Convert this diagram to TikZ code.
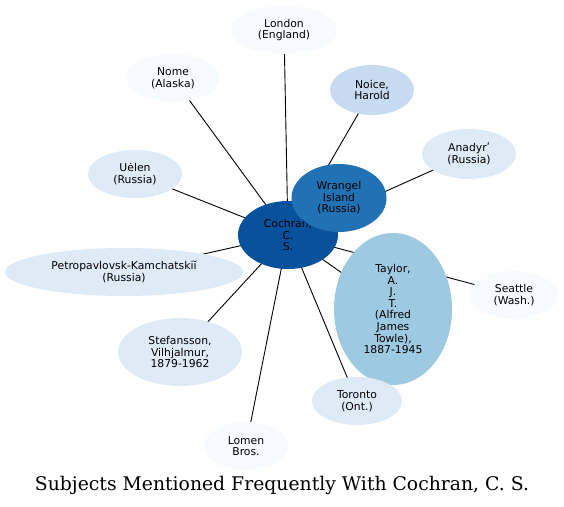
\documentclass[tikz,border=0pt]{standalone}
\usepackage{fontspec}
\setmainfont{DejaVu Sans}
\newfontfamily\titlefont{DejaVu Serif}
\usetikzlibrary{shapes.geometric,backgrounds}

\definecolor{blue0}{HTML}{F7FBFF}
\definecolor{blue1}{HTML}{DEEBF7}
\definecolor{blue2}{HTML}{C6DBEF}
\definecolor{blue3}{HTML}{9ECAE1}
\definecolor{blue5}{HTML}{2171B5}
\definecolor{blue6}{HTML}{08519C}

\tikzset{
  subject/.style={ellipse,inner sep=0pt,align=center,
    font=\fontsize{10.8}{11.6}\selectfont},
  link/.style={draw=black,line width=0.9pt}
}

\begin{document}
\begin{tikzpicture}[x=1pt,y=-1pt,line cap=round,line join=round]
\useasboundingbox (0,0) rectangle (564,506);

% Central subject and its nearest neighbour.
\node[subject,fill=blue6,minimum width=100,minimum height=68] (cochran) at (288,235) {Cochran,\\C.\\S.};
\node[subject,fill=blue5,minimum width=95,minimum height=68]  (wrangel) at (339,198) {Wrangel\\Island\\(Russia)};

% Other subjects.
\node[subject,fill=blue0,minimum width=106,minimum height=48] (london)  at (284,30)  {London\\(England)};
\node[subject,fill=blue0,minimum width=94,minimum height=48]  (nome)    at (173,78)  {Nome\\(Alaska)};
\node[subject,fill=blue2,minimum width=84,minimum height=50]  (noice)   at (372,90)  {Noice,\\Harold};
\node[subject,fill=blue1,minimum width=94,minimum height=50]  (anadyr)  at (469,154) {Anadyrʹ\\(Russia)};
\node[subject,fill=blue1,minimum width=94,minimum height=48]  (uelen)   at (135,174) {Uėlen\\(Russia)};
\node[subject,fill=blue1,minimum width=238,minimum height=48] (petro)   at (124,272) {Petropavlovsk-Kamchatskiĭ\\(Russia)};
\node[subject,fill=blue3,minimum width=118,minimum height=152] (taylor) at (393,309) {Taylor,\\A.\\J.\\T.\\(Alfred\\James\\Towle),\\1887-1945};
\node[subject,fill=blue0,minimum width=88,minimum height=48]  (seattle) at (514,295) {Seattle\\(Wash.)};
\node[subject,fill=blue1,minimum width=124,minimum height=68] (stef)    at (180,352) {Stefansson,\\Vilhjalmur,\\1879-1962};
\node[subject,fill=blue1,minimum width=90,minimum height=48]  (toronto) at (357,401) {Toronto\\(Ont.)};
\node[subject,fill=blue0,minimum width=84,minimum height=48]  (lomen)   at (246,446) {Lomen\\Bros.};

% Connectors, kept behind the ellipses.
\begin{scope}[on background layer]
\foreach \other in {london,nome,noice,anadyr,uelen,petro,stef,lomen,toronto,taylor,seattle,wrangel}
  \draw[link] (cochran.center) -- (\other.center);
\end{scope}

\node[font=\titlefont\fontsize{18.8}{21}\selectfont] (title) at (282,485) {Subjects Mentioned Frequently With Cochran, C. S.};
\end{tikzpicture}
\end{document}
